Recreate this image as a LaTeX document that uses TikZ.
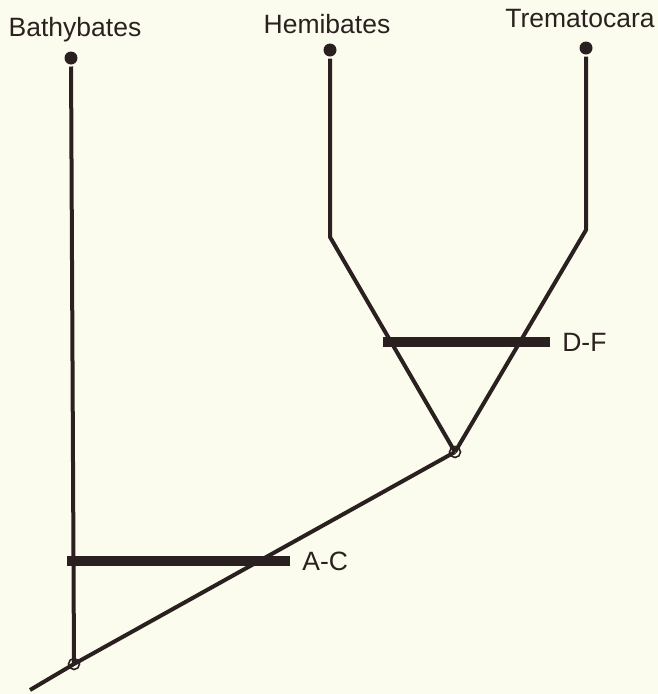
\documentclass[tikz,border=0pt]{standalone}
\usepackage{fontspec}
\setmainfont{Liberation Sans}
\definecolor{paper}{HTML}{FBFCEE}
\definecolor{ink}{HTML}{2B2020}

\begin{document}
\begin{tikzpicture}[x=1pt,y=-1pt,ink,line width=4pt,
        tip/.style={circle,fill=ink,inner sep=0pt,minimum size=13pt},
        split/.style={circle,draw=ink,line width=1.6pt,inner sep=0pt,minimum size=11pt},
        taxon/.style={font=\fontsize{26.5}{26.5}\selectfont,anchor=base,text=ink},
        synapo/.style={font=\fontsize{26.5}{26.5}\selectfont,anchor=west,text=ink},
        bar/.style={line width=10pt}]
        \fill[paper] (0,0) rectangle (658,694);
        \useasboundingbox (0,0) rectangle (658,694);
        % taxa
        \node (bathy) [tip] at (71,58) {};
        \node (hemi) [tip] at (330,50) {};
        \node (trema) [tip] at (586,48) {};
        \node (bathylab) [taxon] at (75,36) {Bathybates};
        \node (hemilab) [taxon] at (327,33) {Hemibates};
        \node (tremalab) [taxon] at (580,27) {Trematocara};
        % branching points
        \node (root) [split] at (74,664) {};
        \node (anc) [split] at (455,452) {};
        \coordinate (base) at (30,690);
        \coordinate (hemibend) at (330,237);
        \coordinate (tremabend) at (586,230);
        % branches
        \draw (bathy) -- (root.center);
        \draw (base) -- (root.center) -- (anc.center);
        \draw[line join=round] (hemi) -- (hemibend) -- (anc.center);
        \draw[line join=round] (trema) -- (tremabend) -- (anc.center);
        % characters
        \coordinate (acL) at (67,561);
        \coordinate (acR) at (290,561);
        \coordinate (dfL) at (383,342);
        \coordinate (dfR) at (550,342);
        \draw[bar] (acL) -- (acR);
        \draw[bar] (dfL) -- (dfR);
        \node (ac) [synapo] at (297,561) {A-C};
        \node (df) [synapo] at (557,342) {D-F};
    \end{tikzpicture}
\end{document}
